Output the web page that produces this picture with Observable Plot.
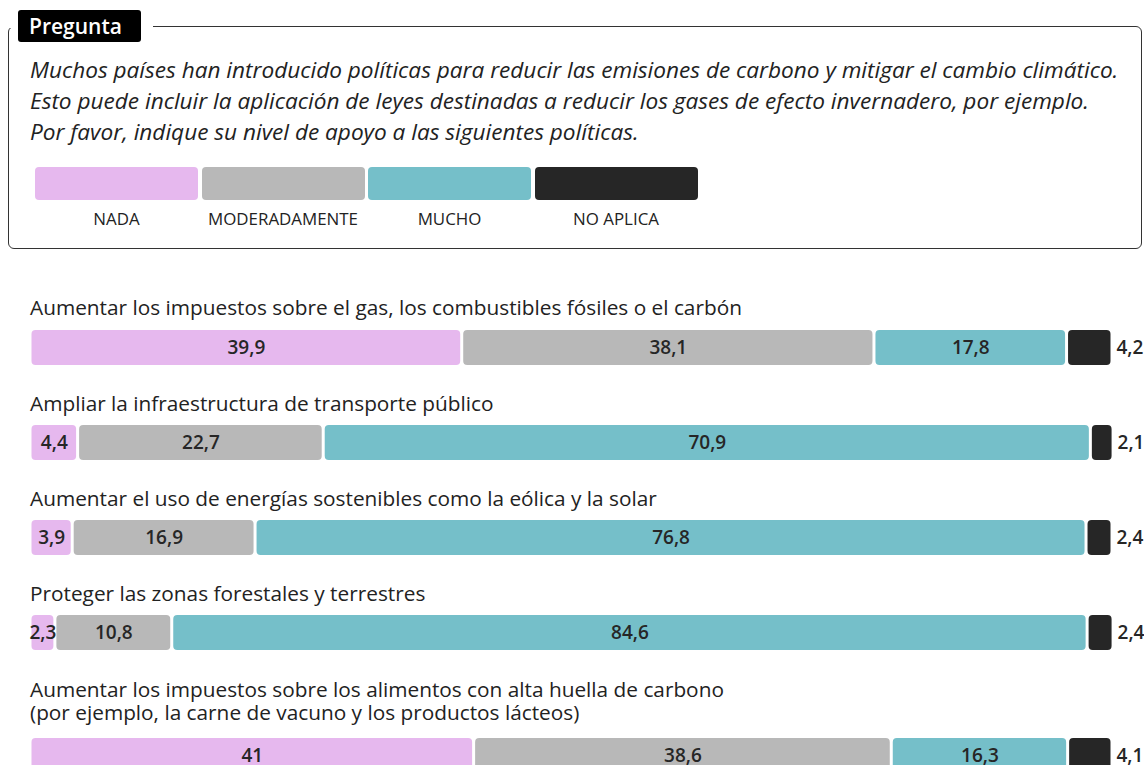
<!DOCTYPE html>
<html>
<head>
<meta charset="utf-8">
<script src="https://cdn.jsdelivr.net/npm/d3@7"></script>
<script src="https://cdn.jsdelivr.net/npm/@observablehq/plot@0.6"></script>
<style>
  body { margin:0; background:#fff; }
  #root { position:relative; width:1144px; height:765px; overflow:hidden; font-family:"Open Sans", Roboto, sans-serif; color:#222; }
  .box { position:absolute; left:8px; top:26px; width:1132px; height:221px; border:1px solid #333; border-radius:6px; }
  .cover { position:absolute; left:0; top:18px; width:153px; height:10px; background:#fff; }
  .tag { position:absolute; left:18px; top:10px; width:123px; height:32px; background:#000; border-radius:3px; color:#fff; font-size:21px; font-weight:600; line-height:32px; padding-left:11px; box-sizing:border-box; }
  .q { position:absolute; left:30px; font-size:22.6px; font-style:italic; line-height:31px; height:31px; white-space:nowrap; }
  .leg { position:absolute; top:167px; }
  .sw { position:absolute; top:0; height:33px; width:163px; border-radius:4px; }
  .swl { position:absolute; top:40px; width:163px; text-align:center; font-size:16.9px; }
  .title { position:absolute; left:30px; font-size:20.8px; line-height:23px; height:23px; white-space:nowrap; }
  .row { position:absolute; left:0; }
</style>
</head>
<body>
<div id="root">
  <div class="box"></div>
  <div class="cover"></div>
  <div class="tag">Pregunta</div>
  <div class="leg" id="leg"></div>
</div>
<script>
const questionLines = [
  "Muchos países han introducido políticas para reducir las emisiones de carbono y mitigar el cambio climático.",
  "Esto puede incluir la aplicación de leyes destinadas a reducir los gases de efecto invernadero, por ejemplo.",
  "Por favor, indique su nivel de apoyo a las siguientes políticas."
];
const categories = ["NADA", "MODERADAMENTE", "MUCHO", "NO APLICA"];
const colors = ["#e6b8ee", "#b8b8b8", "#75bfc9", "#262626"];
const policies = [
  "Aumentar los impuestos sobre el gas, los combustibles fósiles o el carbón",
  "Ampliar la infraestructura de transporte público",
  "Aumentar el uso de energías sostenibles como la eólica y la solar",
  "Proteger las zonas forestales y terrestres",
  "Aumentar los impuestos sobre los alimentos con alta huella de carbono\n(por ejemplo, la carne de vacuno y los productos lácteos)"
];
const nada = [39.9, 4.4, 3.9, 2.3, 41];
const moderadamente = [38.1, 22.7, 16.9, 10.8, 38.6];
const mucho = [17.8, 70.9, 76.8, 84.6, 16.3];
const noAplica = [4.2, 2.1, 2.4, 2.4, 4.1];

const root = document.getElementById("root");
questionLines.forEach((line, i) => {
  const d = document.createElement("div");
  d.className = "q";
  d.style.top = (54 + i * 31) + "px";
  d.textContent = line;
  root.appendChild(d);
});

// legend
const leg = document.getElementById("leg");
categories.forEach((c, i) => {
  const left = 35 + i * 166.5;
  const sw = document.createElement("div");
  sw.className = "sw"; sw.style.left = left + "px"; sw.style.background = colors[i];
  leg.appendChild(sw);
  const l = document.createElement("div");
  l.className = "swl"; l.style.left = left + "px"; l.textContent = c;
  leg.appendChild(l);
});

const series = [nada, moderadamente, mucho, noAplica];
const fmt = v => String(v).replace(".", ",");
const titleTops = [296, 392, 487, 582, 678];
const barTops = [329, 424, 519, 614, 737];

policies.forEach((p, r) => {
  p.split("\n").forEach((line, k) => {
    const t = document.createElement("div");
    t.className = "title";
    t.style.top = (titleTops[r] + k * 23) + "px";
    t.textContent = line;
    root.appendChild(t);
  });

  const data = categories.map((c, i) => ({cat: c, value: series[i][r]}));
  const chart = Plot.plot({
    width: 1144,
    height: 37,
    marginLeft: 30,
    marginRight: 32,
    marginTop: 1,
    marginBottom: 1,
    x: {domain: [0, 100], axis: null},
    color: {domain: categories, range: colors},
    style: {fontFamily: "'Open Sans', sans-serif", overflow: "visible"},
    marks: [
      Plot.barX(data, Plot.stackX({x: "value", fill: "cat", insetLeft: 1.5, insetRight: 1.5, rx: 4})),
      Plot.text(data, Plot.stackX({x: "value", text: d => d.cat === "NO APLICA" ? "" : fmt(d.value),
        fill: "#262626", fontSize: 19, fontWeight: 600})),
      Plot.text(data, Plot.stackX2({x: "value", text: d => d.cat === "NO APLICA" ? fmt(d.value) : "",
        fill: "#262626", fontSize: 19, fontWeight: 600, textAnchor: "start", dx: 4}))
    ]
  });
  const wrap = document.createElement("div");
  wrap.className = "row";
  wrap.style.top = barTops[r] + "px";
  wrap.appendChild(chart);
  root.appendChild(wrap);
});
</script>
</body>
</html>
